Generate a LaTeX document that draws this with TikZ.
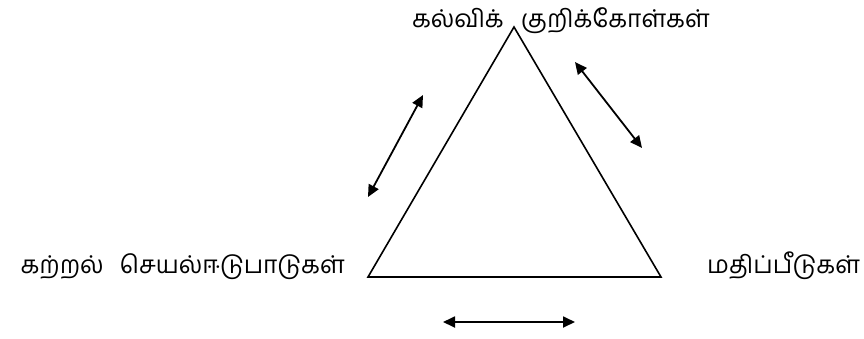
\documentclass[tikz,border=0pt]{standalone}
\usepackage{fontspec}
\usepackage{tikz}
\usetikzlibrary{positioning,arrows.meta}
\newfontfamily\tamilfont[Script=Tamil]{Hind Madurai}
\tikzset{
  edge/.style={line width=1.6pt,draw=black},
  twoway/.style={{Triangle[length=12pt,width=11pt]}-{Triangle[length=12pt,width=11pt]},line width=1.8pt,draw=black},
  tlabel/.style={font=\tamilfont\fontsize{24.5}{28}\selectfont,inner sep=0pt,anchor=base}
}
\begin{document}
\begin{tikzpicture}[x=1pt,y=-1pt]
  \useasboundingbox (0,0) rectangle (864,338);
  % triangle corners
  \coordinate (apex) at (514,27);
  \coordinate (lcorner) at (368,277);
  \coordinate (rcorner) at (661,277);
  \draw[edge,line join=miter] (apex) -- (lcorner) -- (rcorner) -- cycle;

  % labels
  \node[tlabel,anchor=base east] (goalsa) at (504,27) {கல்விக்};
  \node[tlabel,anchor=base west] (goalsb) at (521,27) {குறிக்கோள்கள்};
  \node[tlabel,anchor=base east] (activities) at (345,273) {கற்றல்\hspace{16pt}செயல்ஈடுபாடுகள்};
  \node[tlabel,anchor=base west] (evaluation) at (707,273) {மதிப்பீடுகள்};

  % arrow ends
  \coordinate (la) at (423,95);
  \coordinate (lb) at (368,197);
  \coordinate (ra) at (575,62);
  \coordinate (rb) at (642,148);
  \coordinate (ba) at (443,322);
  \coordinate (bb) at (575,322);
  \draw[twoway] (la) -- (lb);
  \draw[twoway] (ra) -- (rb);
  \draw[twoway] (ba) -- (bb);
\end{tikzpicture}
\end{document}
